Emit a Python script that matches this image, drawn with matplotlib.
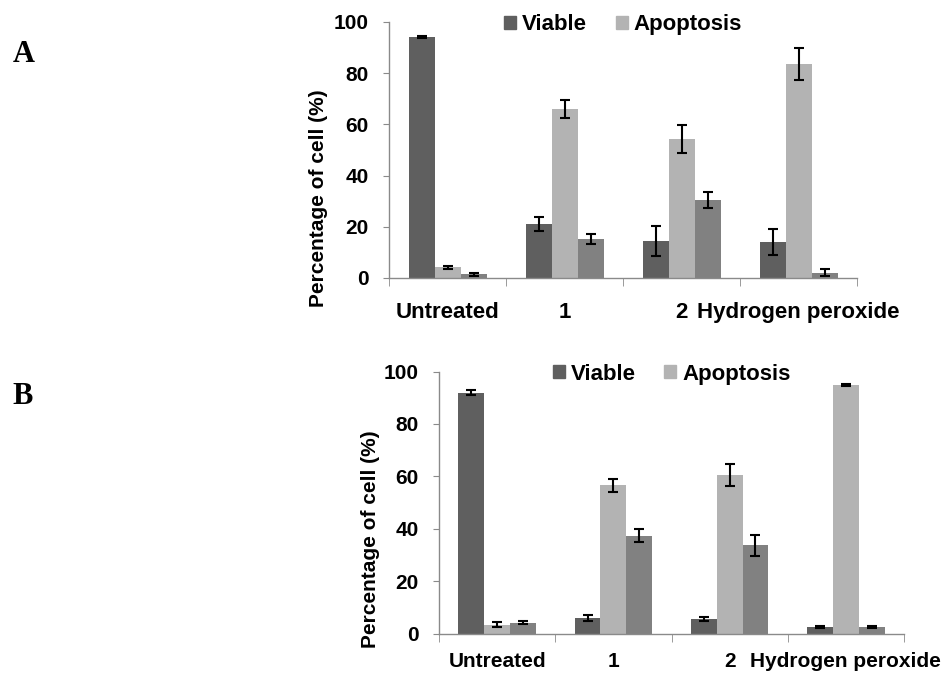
import matplotlib
matplotlib.use("Agg")
import matplotlib.pyplot as plt
import numpy as np
from matplotlib.patches import Patch

categories = ["Untreated", "1", "2", "Hydrogen peroxide"]
series_names = ["Viable", "Apoptosis", "Necrosis"]

a_viable = [94.1, 21.0, 14.3, 13.9]
a_viable_err = [0.5, 2.8, 5.9, 5.1]
a_apop = [4.2, 66.1, 54.4, 83.6]
a_apop_err = [0.5, 3.5, 5.5, 6.1]
a_necro = [1.4, 15.2, 30.5, 2.1]
a_necro_err = [0.5, 2.1, 3.0, 1.5]

b_viable = [91.9, 5.8, 5.4, 2.4]
b_viable_err = [0.9, 1.2, 0.8, 0.4]
b_apop = [3.4, 56.5, 60.6, 94.9]
b_apop_err = [0.9, 2.6, 4.2, 0.5]
b_necro = [4.1, 37.4, 33.6, 2.4]
b_necro_err = [0.6, 2.6, 3.9, 0.4]

colors = ["#5f5f5f", "#b3b3b3", "#818181"]
yticks = [0, 20, 40, 60, 80, 100]

FONT = "Liberation Sans"
fig = plt.figure(figsize=(9.41, 6.74), dpi=100)


def panel(rect, vals, errs, ylab_pos, xsize, xpad):
    ax = fig.add_axes(rect)
    x = np.arange(len(categories))
    w = 1 / 4.5
    for i, (v, e) in enumerate(zip(vals, errs)):
        ax.bar(x + (i - 1) * w, v, width=w, color=colors[i], zorder=2)
        ax.errorbar(x + (i - 1) * w, v, yerr=e, fmt="none", ecolor="black",
                    elinewidth=1.5, capsize=3.5, capthick=1.5, zorder=3)
    ax.set_xlim(-0.5, 3.5)
    ax.set_ylim(0, 100)
    for s in ["top", "right"]:
        ax.spines[s].set_visible(False)
    for s in ["left", "bottom"]:
        ax.spines[s].set_color("#8a8a8a")
        ax.spines[s].set_linewidth(1.0)
    ax.set_yticks(yticks)
    ax.set_yticklabels([str(t) for t in yticks], fontsize=15, fontweight="bold",
                       family=FONT)
    ax.tick_params(axis="y", length=4.5, color="#8a8a8a", pad=10)
    ax.set_xticks(x)
    ax.set_xticklabels(categories, fontsize=xsize, fontweight="bold", family=FONT)
    ax.tick_params(axis="x", which="major", length=0, pad=xpad)
    ax.set_xticks(np.arange(-0.5, 4.0, 1.0), minor=True)
    ax.tick_params(axis="x", which="minor", length=6, color="#8a8a8a")
    fig.text(ylab_pos[0], ylab_pos[1], "Percentage of cell (%)", rotation=90,
             ha="center", va="center", fontsize=15, fontweight="bold", family=FONT)
    handles = [Patch(color=colors[0]), Patch(color=colors[1])]
    ax.legend(handles, series_names[:2], ncol=2, frameon=False,
              loc="center", bbox_to_anchor=(0.5, 0.99),
              prop={"family": FONT, "weight": "bold", "size": 16},
              handlelength=0.55, handleheight=0.55, handletextpad=0.25,
              columnspacing=1.3, borderaxespad=0)
    return ax


panel([389 / 941, 1 - 278 / 674, (857 - 389) / 941, (278 - 22) / 674],
      [a_viable, a_apop, a_necro], [a_viable_err, a_apop_err, a_necro_err],
      (318 / 941, 1 - 198 / 674), 16, 17)
panel([439 / 941, 1 - 633.5 / 674, (904 - 439) / 941, (633.5 - 371.5) / 674],
      [b_viable, b_apop, b_necro], [b_viable_err, b_apop_err, b_necro_err],
      (370 / 941, 1 - 539 / 674), 15, 13)

fig.text(24 / 941, 1 - 55 / 674, "A", fontsize=22, fontweight="bold",
         family="Liberation Serif", ha="center", va="center")
fig.text(23 / 941, 1 - 397 / 674, "B", fontsize=22, fontweight="bold",
         family="Liberation Serif", ha="center", va="center")

fig.savefig("out.png", dpi=100)
